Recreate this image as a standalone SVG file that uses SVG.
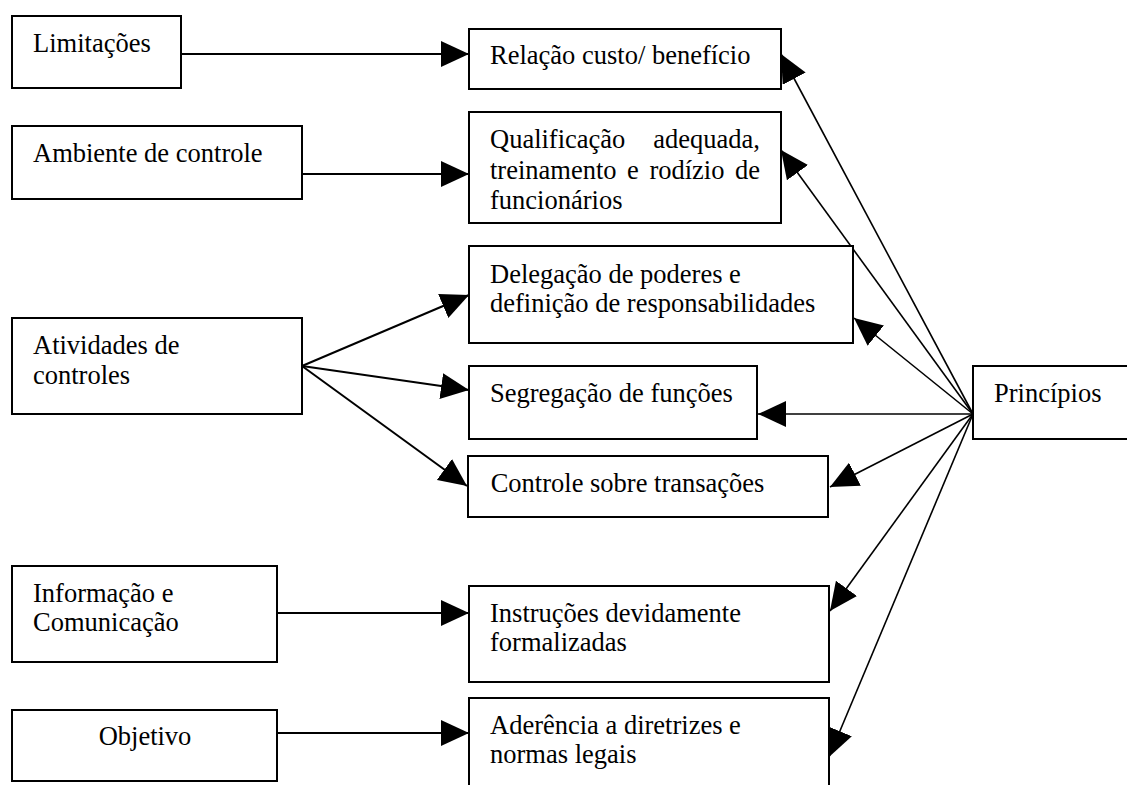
<svg xmlns="http://www.w3.org/2000/svg" width="1127" height="785" viewBox="0 0 1127 785">
<style>
.box{fill:#fff;stroke:#000;stroke-width:2}
.t{font-family:"Liberation Serif","Times New Roman",serif;font-size:26.5px;fill:#000}
.c{stroke:#000;stroke-width:2;fill:none;marker-end:url(#ah)}
.p{stroke:#000;stroke-width:1.6;fill:none;marker-end:url(#ah)}
</style>
<defs>
<marker id="ah" markerUnits="userSpaceOnUse" markerWidth="28" markerHeight="26" refX="28" refY="13" orient="auto" viewBox="0 0 28 26">
<path d="M0,0 L28,13 L0,26 z" fill="#000"/>
</marker>
</defs>
<rect width="1127" height="785" fill="#fff"/>
<g id="connectors">
<line class="c" x1="181" y1="54" x2="469" y2="54"/>
<line class="c" x1="302" y1="174" x2="469" y2="174"/>
<line class="c" x1="302" y1="366" x2="469" y2="295"/>
<line class="c" x1="302" y1="366" x2="469" y2="390"/>
<line class="c" x1="302" y1="366" x2="467" y2="486"/>
<line class="c" x1="277" y1="613" x2="469" y2="613"/>
<line class="c" x1="277" y1="733" x2="469" y2="733"/>
<line class="p" x1="973" y1="414" x2="781" y2="54"/>
<line class="p" x1="973" y1="414" x2="781" y2="150"/>
<line class="p" x1="973" y1="414" x2="854" y2="318"/>
<line class="p" x1="973" y1="414" x2="758" y2="414"/>
<line class="p" x1="973" y1="414" x2="830" y2="487"/>
<line class="p" x1="973" y1="414" x2="830" y2="611"/>
<line class="p" x1="973" y1="414" x2="829" y2="757"/>
</g>
<g id="limitacoes"><rect class="box" x="12" y="16" width="169" height="72"/><text class="t" x="33" y="52">Limitações</text></g>
<g id="ambiente"><rect class="box" x="12" y="126" width="290" height="73"/><text class="t" x="33" y="161.7">Ambiente de controle</text></g>
<g id="atividades"><rect class="box" x="12" y="318" width="290" height="96"/><text class="t" x="33" y="354">Atividades de</text><text class="t" x="33" y="384">controles</text></g>
<g id="informacao"><rect class="box" x="12" y="566" width="265" height="96"/><text class="t" x="33" y="601.7">Informação e</text><text class="t" x="33" y="631">Comunicação</text></g>
<g id="objetivo"><rect class="box" x="12" y="710" width="265" height="71"/><text class="t" x="145" y="745" text-anchor="middle">Objetivo</text></g>
<g id="relacao"><rect class="box" x="469" y="29" width="312" height="60"/><text class="t" x="490" y="64.3">Relação custo/ benefício</text></g>
<g id="qualificacao"><rect class="box" x="469" y="112" width="312" height="111"/>
<text class="t" x="490" y="148">Qualificação</text><text class="t" x="760" y="148" text-anchor="end">adequada,</text>
<text class="t" x="490" y="179">treinamento</text><text class="t" x="627" y="179">e</text><text class="t" x="649.4" y="179">rodízio</text><text class="t" x="760" y="179" text-anchor="end">de</text>
<text class="t" x="490" y="208.5">funcionários</text></g>
<g id="delegacao"><rect class="box" x="469" y="246" width="384" height="97"/><text class="t" x="490" y="283.3">Delegação de poderes e</text><text class="t" x="490" y="311.7">definição de responsabilidades</text></g>
<g id="segregacao"><rect class="box" x="469" y="366" width="288" height="73"/><text class="t" x="490" y="401.7">Segregação de funções</text></g>
<g id="controle"><rect class="box" x="468" y="456" width="360" height="61"/><text class="t" x="490.7" y="491.7">Controle sobre transações</text></g>
<g id="instrucoes"><rect class="box" x="469" y="586" width="360" height="96"/><text class="t" x="490" y="621.7">Instruções devidamente</text><text class="t" x="490" y="650.7">formalizadas</text></g>
<g id="aderencia"><rect class="box" x="469" y="698" width="360" height="92"/><text class="t" x="490" y="734">Aderência a diretrizes e</text><text class="t" x="490" y="763.3">normas legais</text></g>
<g id="principios"><rect class="box" x="973" y="366" width="160" height="73"/><text class="t" x="994" y="402">Princípios</text></g>
</svg>
